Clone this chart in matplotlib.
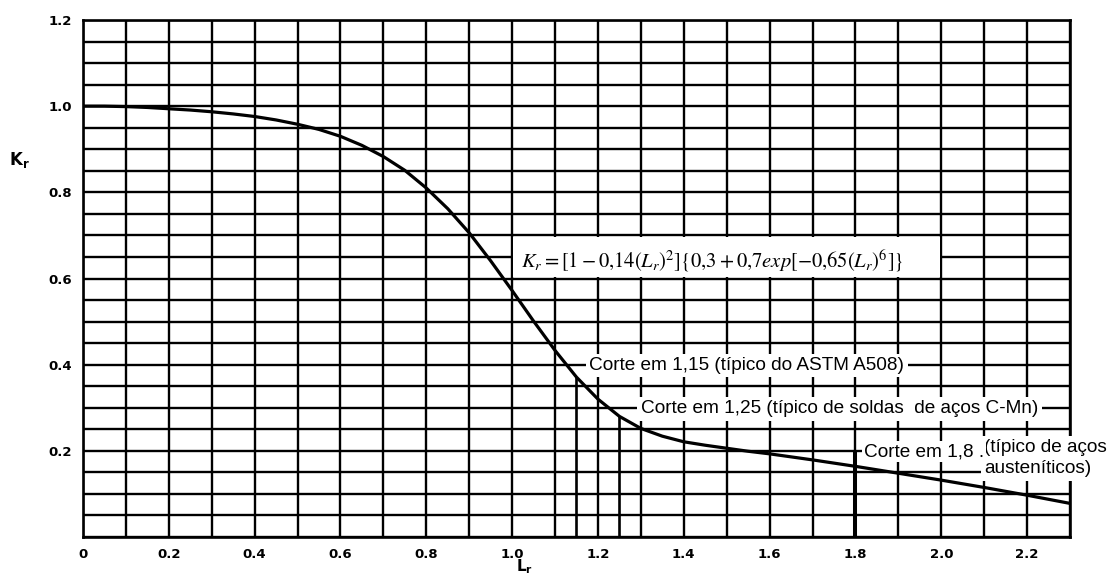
import numpy as np
import matplotlib
matplotlib.use("Agg")
import matplotlib.pyplot as plt
from matplotlib.patches import Rectangle

plt.rcParams['mathtext.fontset'] = 'stix'

# Curve Kr x Lr
lr = [0.00, 0.05, 0.10, 0.15, 0.20, 0.25, 0.30, 0.35, 0.40, 0.45,
      0.50, 0.55, 0.60, 0.65, 0.70, 0.75, 0.80, 0.85, 0.90, 0.95,
      1.00, 1.05, 1.10, 1.15, 1.20, 1.25, 1.30, 1.35, 1.40, 1.45,
      1.50, 1.55, 1.60, 1.70, 1.80, 1.90, 2.00, 2.10, 2.20, 2.30]
kr = [1.000, 1.000, 0.999, 0.997, 0.994, 0.991, 0.987, 0.982, 0.976, 0.968,
      0.958, 0.946, 0.930, 0.909, 0.883, 0.851, 0.810, 0.762, 0.706, 0.641,
      0.572, 0.501, 0.433, 0.371, 0.320, 0.280, 0.252, 0.234, 0.221, 0.213,
      0.206, 0.199, 0.193, 0.179, 0.164, 0.148, 0.132, 0.115, 0.097, 0.078]

# cut-off lines (Lr value, top of the line)
cut_lr = [1.15, 1.25, 1.80]
cut_top = [0.371, 0.280, 0.200]

x_ticks = [0, 0.2, 0.4, 0.6, 0.8, 1.0, 1.2, 1.4, 1.6, 1.8, 2.0, 2.2]
x_tick_labels = ["0", "0.2", "0.4", "0.6", "0.8", "1.0", "1.2", "1.4", "1.6", "1.8", "2.0", "2.2"]
y_ticks = [0.2, 0.4, 0.6, 0.8, 1.0, 1.2]
y_tick_labels = ["0.2", "0.4", "0.6", "0.8", "1.0", "1.2"]

fig = plt.figure(figsize=(11.08, 5.79), dpi=100)
ax = fig.add_axes([83/1108, 42/579, (1070-83)/1108, (537-20)/579])

ax.set_xlim(0, 2.3)
ax.set_ylim(0, 1.2)
ax.set_xticks(x_ticks)
ax.set_xticklabels(x_tick_labels)
ax.set_yticks(y_ticks)
ax.set_yticklabels(y_tick_labels)
ax.set_xticks(np.arange(0, 2.31, 0.1), minor=True)
ax.set_yticks(np.arange(0, 1.21, 0.05), minor=True)
ax.tick_params(which='both', length=0, labelsize=9.5, pad=8)
for lab in ax.get_xticklabels() + ax.get_yticklabels():
    lab.set_fontweight('bold')
ax.grid(which='both', color='black', lw=1.7)
ax.set_axisbelow(True)
for s in ax.spines.values():
    s.set_linewidth(1.9)

# Curve
ax.plot(lr, kr, color='black', lw=2.3, zorder=3)

# Cut-off verticals
ax.vlines(cut_lr[:2], 0, cut_top[:2], color='black', lw=1.9, zorder=3)
ax.vlines(cut_lr[2], 0, cut_top[2], color='black', lw=2.9, zorder=3)

# Equation box
ax.add_patch(Rectangle((1.003, 0.603), 0.994, 0.094, fc='white', ec='none', zorder=1))
ax.text(1.02, 0.642,
        r"$K_r = [1 - 0{,}14(L_r)^2]\{0{,}3 + 0{,}7exp[-0{,}65(L_r)^6]\}$",
        fontsize=14.8, va='center', ha='left', zorder=4)

lab_font = dict(family='Liberation Sans', fontsize=13.7, clip_on=False)
box = dict(fc='white', ec='none', pad=2.5)
ax.text(1.18, 0.398, "Corte em 1,15 (típico do ASTM A508)", va='center', ha='left',
        bbox=box, zorder=4, **lab_font)
ax.text(1.30, 0.298, "Corte em 1,25 (típico de soldas  de aços C-Mn)", va='center', ha='left',
        bbox=box, zorder=4, **lab_font)
ax.text(2.10, 0.207, "(típico de aços", va='center', ha='left', bbox=box, zorder=4, **lab_font)
ax.text(2.10, 0.158, "austeníticos)", va='center', ha='left', bbox=box, zorder=4, **lab_font)
ax.text(1.82, 0.198, "Corte em 1,8 .", va='center', ha='left',
        bbox=dict(fc='white', ec='none', pad=1.5), zorder=5, **lab_font)

fig.text(19/1108, 1 - 160/579, r"$\mathbf{K_r}$", fontsize=12, ha='center', va='center',
         math_fontfamily='dejavusans')
fig.text(525/1108, 1 - 567/579, r"$\mathbf{L_r}$", fontsize=11, ha='center', va='center',
         math_fontfamily='dejavusans')

fig.savefig("out.png", dpi=100, facecolor='white')
